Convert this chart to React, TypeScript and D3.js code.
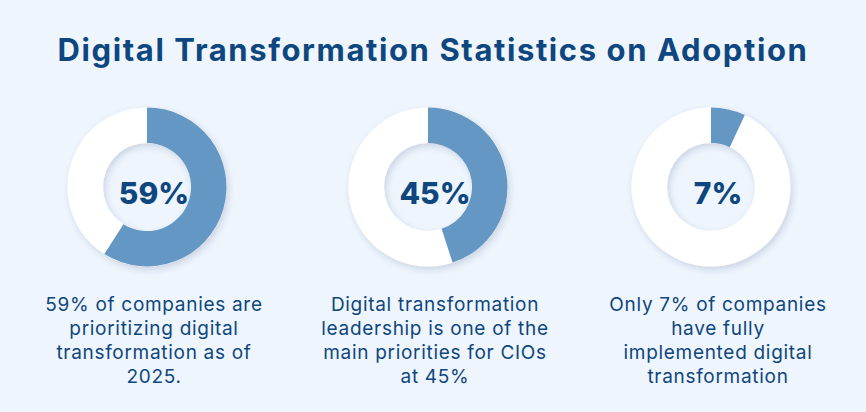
import React from "react";
import * as d3 from "d3";

const title = "Digital Transformation Statistics on Adoption";
const values = [59, 45, 7];
const centerLabels = ["59%", "45%", "7%"];
const descriptions = [
  ["59% of companies are", "prioritizing digital", "transformation as of", "2025."],
  ["Digital transformation", "leadership is one of the", "main priorities for CIOs", "at 45%"],
  ["Only 7% of companies", "have fully", "implemented digital", "transformation"],
];

const W = 866;
const H = 412;
const BG = "#EEF5FD";
const BLUE = "#6597C5";
const NAVY = "#0E467F";

export default function App() {
  const centers = [147, 428, 711];
  const cy = 187;
  const rOuter = 79.5;
  const rInner = 44;
  const arc = d3.arc<any>().innerRadius(rInner).outerRadius(rOuter);
  const angle = d3.scaleLinear().domain([0, 100]).range([0, 2 * Math.PI]);

  return (
    <svg width={W} height={H} style={{ position: "absolute", left: 0, top: 0, display: "block" }}>
      <defs>
        <filter id="sh" x="-30%" y="-30%" width="160%" height="160%">
          <feDropShadow dx="2" dy="3" stdDeviation="3" floodColor="#1d3b66" floodOpacity="0.18" />
        </filter>
      </defs>
      <rect x={0} y={0} width={W} height={H} fill={BG} />
      <text
        x={433}
        y={61}
        textAnchor="middle"
        fontFamily="Inter, 'Open Sans', sans-serif"
        fontWeight={700}
        fontSize={31}
        letterSpacing={1.6}
        fill={NAVY}
      >
        {title}
      </text>
      {values.map((v, i) => {
        const cx = centers[i];
        const a = angle(v);
        return (
          <g key={i} transform={`translate(${cx},${cy})`}>
            <g filter="url(#sh)">
              <path d={arc({ startAngle: 0, endAngle: 2 * Math.PI }) || ""} fill="#ffffff" />
            </g>
            <path d={arc({ startAngle: 0, endAngle: a }) || ""} fill={BLUE} />
            <text
              x={7}
              y={17}
              textAnchor="middle"
              fontFamily="Inter, 'Open Sans', sans-serif"
              fontWeight={800}
              fontSize={30}
              fill={NAVY}
            >
              {centerLabels[i]}
            </text>
          </g>
        );
      })}
      {descriptions.map((lines, i) => (
        <text
          key={i}
          textAnchor="middle"
          fontFamily="Inter, 'Open Sans', sans-serif"
          fontWeight={400}
          fontSize={19}
          letterSpacing={0.7}
          fill={NAVY}
        >
          {lines.map((l, j) => (
            <tspan key={j} x={centers[i] + 7} y={311 + j * 24}>
              {l}
            </tspan>
          ))}
        </text>
      ))}
    </svg>
  );
}
